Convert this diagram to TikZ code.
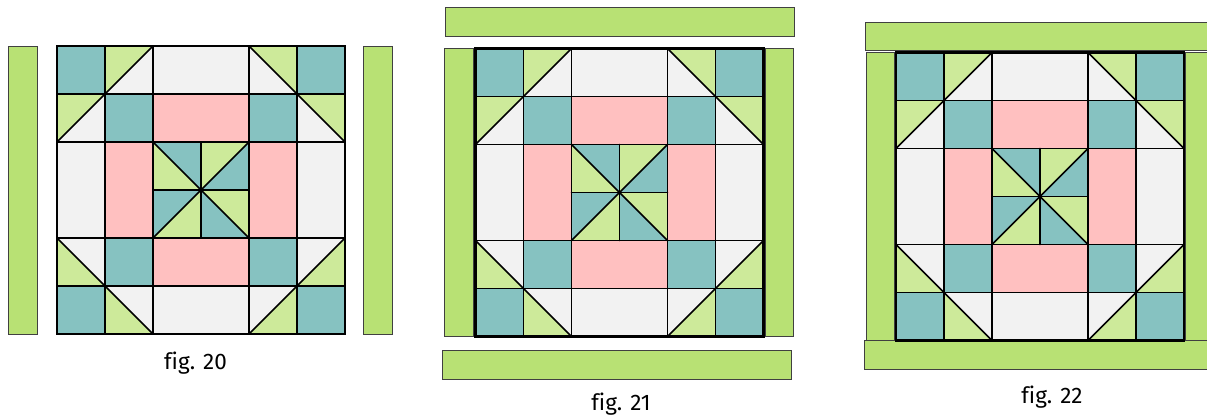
\documentclass[tikz,border=0pt]{standalone}
\usepackage{fontspec}
\setmainfont{Fira Sans}[Ligatures=NoCommon]
\definecolor{quiltteal}{HTML}{86C2C1}
\definecolor{quiltlime}{HTML}{CDEA9A}
\definecolor{quiltpink}{HTML}{FFC0C0}
\definecolor{quiltwhite}{HTML}{F2F2F2}
\definecolor{stripgreen}{HTML}{B8E174}

\begin{document}
\begin{tikzpicture}[x=1pt,y=-1pt,
  seam/.style={line width=1.7pt, black, line cap=round},
  strip/.style={line width=1pt, draw=black!75, fill=stripgreen},
  caption/.style={anchor=base, font=\fontsize{22.5}{26}\selectfont}]
\useasboundingbox (0,0) rectangle (1207,416);
\fill[white] (0,0) rectangle (1207,416);
\draw[strip] (8,46) rectangle (37,334);
\draw[strip] (363,46) rectangle (392,334);
\draw[strip] (445,7.5) rectangle (794,36);
\draw[strip] (444.5,48.5) rectangle (473.5,336.5);
\draw[strip] (765,48.5) rectangle (793.5,336.5);
\draw[strip] (442.5,350) rectangle (791,379.5);
\draw[strip] (865,22) rectangle (1215,50.5);
\draw[strip] (866,52.5) rectangle (894.5,340.5);
\draw[strip] (1185,52.5) rectangle (1215,340.5);
\draw[strip] (864.5,340.5) rectangle (1215,369.5);
\foreach \bx/\by in {57/46, 475.5/48.5, 896/52.5} {
  \begin{scope}[shift={(\bx,\by)}, x=48pt, y=-48pt]
    \fill[quiltwhite] (0,0) rectangle (6,6);
    \foreach \cx/\cy in {0/0,1/1,5/0,4/1,0/5,1/4,5/5,4/4}
      \fill[quiltteal] (\cx,\cy) rectangle ++(1,1);
    \fill[quiltpink] (2,1) rectangle (4,2);
    \fill[quiltpink] (2,4) rectangle (4,5);
    \fill[quiltpink] (1,2) rectangle (2,4);
    \fill[quiltpink] (4,2) rectangle (5,4);
    \fill[quiltlime] (1,0) -- (2,0) -- (1,1) -- cycle;
    \fill[quiltlime] (0,1) -- (1,1) -- (0,2) -- cycle;
    \fill[quiltlime] (4,0) -- (5,0) -- (5,1) -- cycle;
    \fill[quiltlime] (5,1) -- (6,1) -- (6,2) -- cycle;
    \fill[quiltlime] (0,4) -- (1,5) -- (0,5) -- cycle;
    \fill[quiltlime] (1,5) -- (2,6) -- (1,6) -- cycle;
    \fill[quiltlime] (6,4) -- (6,5) -- (5,5) -- cycle;
    \fill[quiltlime] (5,5) -- (5,6) -- (4,6) -- cycle;
    \fill[quiltlime] (2,2) rectangle (4,4);
    \fill[quiltteal] (2,2) -- (3,2) -- (3,3) -- cycle;
    \fill[quiltteal] (4,2) -- (4,3) -- (3,3) -- cycle;
    \fill[quiltteal] (2,3) -- (3,3) -- (2,4) -- cycle;
    \fill[quiltteal] (3,3) -- (4,4) -- (3,4) -- cycle;
    \foreach \k in {1,2,4,5} {
      \draw[seam] (0,\k) -- (6,\k);
      \draw[seam] (\k,0) -- (\k,6);
    }
    \draw[seam] (2,3) -- (4,3);
    \draw[seam] (3,2) -- (3,4);
    \draw[seam] (0,2) -- (2,0);
    \draw[seam] (4,0) -- (6,2);
    \draw[seam] (0,4) -- (2,6);
    \draw[seam] (6,4) -- (4,6);
    \draw[seam] (2,2) -- (4,4);
    \draw[seam] (4,2) -- (2,4);
    \draw[seam, line width=2.1pt] (0,0) rectangle (6,6);
  \end{scope}
}
\node[caption] (cap20) at (195.5,369.5) {fig. 20};
\node[caption] (cap21) at (621,410) {fig. 21};
\node[caption] (cap22) at (1052,403) {fig. 22};
\end{tikzpicture}
\end{document}
